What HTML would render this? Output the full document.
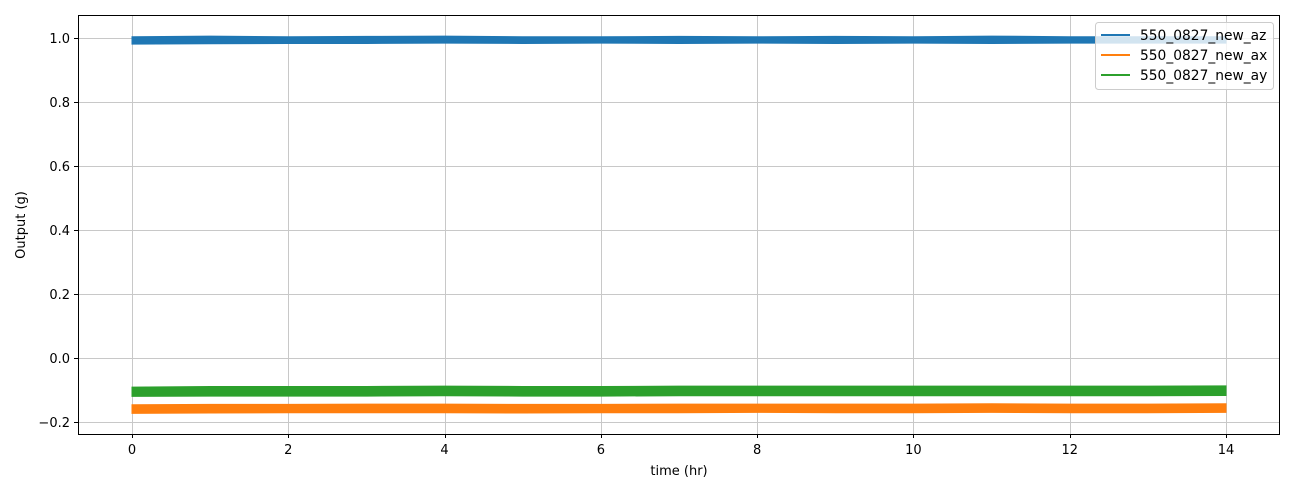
<!DOCTYPE html>
<html><head><meta charset="utf-8"><style>
body{margin:0;background:#fff;font-family:"Liberation Sans","DejaVu Sans",sans-serif;}
svg text{font-family:"DejaVu Sans","Liberation Sans",sans-serif;font-size:13px;fill:#000}
</style></head><body>
<svg id="chart" width="1295" height="492" xmlns="http://www.w3.org/2000/svg">
<g id="grid"></g>
<g id="series"></g>
<rect x="78.5" y="15.5" width="1201" height="419" fill="none" stroke="#000" stroke-width="1"/>
<g id="ticks"></g>
<text x="679" y="475" text-anchor="middle">time (hr)</text>
<text transform="translate(25,225) rotate(-90)" text-anchor="middle">Output (g)</text>
<g id="legend"></g>
</svg>
<script>
const seriesNames = ["550_0827_new_az","550_0827_new_ax","550_0827_new_ay"];
const seriesColors = ["#1f77b4","#ff7f0e","#2ca02c"];
const times = [0,1,2,3,4,5,6,7,8,9,10,11,12,13,14];
const azLow  = [0.981,0.982,0.983,0.983,0.984,0.983,0.984,0.983,0.984,0.983,0.984,0.983,0.984,0.984,0.984];
const azHigh = [1.004,1.006,1.004,1.005,1.006,1.004,1.004,1.005,1.004,1.005,1.004,1.006,1.004,1.004,1.004];
const axLow  = [-0.173,-0.172,-0.171,-0.171,-0.171,-0.172,-0.171,-0.171,-0.170,-0.171,-0.171,-0.170,-0.171,-0.171,-0.170];
const axHigh = [-0.146,-0.145,-0.145,-0.144,-0.144,-0.145,-0.145,-0.144,-0.144,-0.144,-0.144,-0.143,-0.144,-0.144,-0.143];
const ayLow  = [-0.120,-0.119,-0.119,-0.119,-0.118,-0.119,-0.119,-0.118,-0.118,-0.118,-0.118,-0.118,-0.118,-0.118,-0.117];
const ayHigh = [-0.091,-0.089,-0.089,-0.089,-0.088,-0.089,-0.089,-0.088,-0.088,-0.088,-0.088,-0.088,-0.088,-0.088,-0.087];
const xTicks = [0,2,4,6,8,10,12,14];
const yTicks = [-0.2,0.0,0.2,0.4,0.6,0.8,1.0];
const yTickLabels = ["\u22120.2","0.0","0.2","0.4","0.6","0.8","1.0"];

const X = t => 132 + t*(1226-132)/14;
const Y = v => 358 - v*320;
const NS="http://www.w3.org/2000/svg";
function mk(tag, attrs, parent){const e=document.createElementNS(NS,tag);for(const k in attrs)e.setAttribute(k,attrs[k]);parent.appendChild(e);return e;}
const grid=document.getElementById('grid'), ticks=document.getElementById('ticks'), ser=document.getElementById('series'), leg=document.getElementById('legend');
const h = v => Math.round(v)+0.5;
xTicks.forEach(t=>{
  const l=mk('line',{x1:h(X(t)),x2:h(X(t)),y1:15,y2:434,stroke:'#c8c8c8','stroke-width':1},grid);
  
  
  const tk=mk('line',{x1:h(X(t)),x2:h(X(t)),y1:434,y2:438,stroke:'#000'},ticks);
  
  
  const tx=mk('text',{x:X(t),y:454,'text-anchor':'middle'},ticks);tx.textContent=t;
  
  
});
yTicks.forEach((v,i)=>{
  const l=mk('line',{x1:78,x2:1280,y1:h(Y(v)),y2:h(Y(v)),stroke:'#c8c8c8','stroke-width':1},grid);
  
  
  const tk=mk('line',{x1:74,x2:78,y1:h(Y(v)),y2:h(Y(v)),stroke:'#000'},ticks);
  
  
  const tx=mk('text',{x:70,y:Y(v)+5,'text-anchor':'end'},ticks);tx.textContent=yTickLabels[i];
  
  
});
const lows=[azLow,axLow,ayLow], highs=[azHigh,axHigh,ayHigh];
[0,1,2].forEach(s=>{
  let d='M'+times.map((t,i)=>X(t)+','+Y(highs[s][i])).join(' L');
  d+=' L'+times.slice().reverse().map((t,j)=>{const i=times.length-1-j;return X(t)+','+Y(lows[s][i]);}).join(' L')+' Z';
  const p=mk('path',{d:d,fill:seriesColors[s],stroke:seriesColors[s],'stroke-width':1},ser);
  
  
});
const box=mk('rect',{x:1095.5,y:22.5,width:178,height:67,rx:3,fill:'#fff','fill-opacity':0.8,stroke:'#ccc'},leg);


seriesNames.forEach((n,i)=>{
  const y=35+i*20;
  const l=mk('line',{x1:1101,x2:1130,y1:y,y2:y,stroke:seriesColors[i],'stroke-width':2},leg);
  
  
  const t=mk('text',{x:1140,y:y+5,'font-size':'13.8px'},leg);t.textContent=n;
  t.style.fontSize='13.8px';
  
  
});
</script>
</body></html>
